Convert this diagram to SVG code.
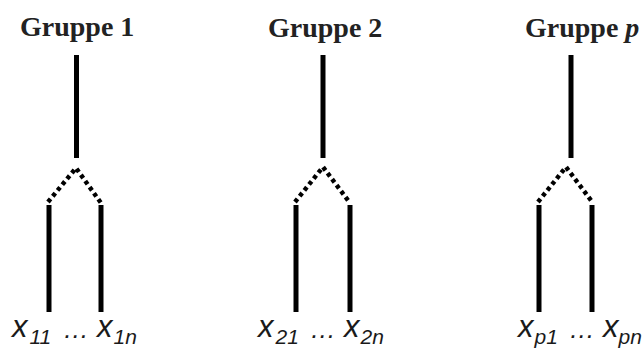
<svg xmlns="http://www.w3.org/2000/svg" width="644" height="349" viewBox="0 0 644 349">
<style>
.title{font-family:"Liberation Serif",serif;font-weight:bold;font-size:28px;fill:#222;}
.lbl{font-family:"Liberation Sans",Arial,sans-serif;font-style:italic;font-size:31px;fill:#1a1a1a;}
.sub{font-size:21px;}
.dots{font-size:26px;}
.solid{stroke:#000;stroke-width:5;fill:none;}
.dot{stroke:#000;stroke-width:4.5;fill:none;stroke-dasharray:4 3.5;}
</style>
<rect width="644" height="349" fill="#fff"/>
<g id="group1">
<text class="title" x="20" y="36">Gruppe 1</text>
<text class="lbl" x="12" y="337">x<tspan class="sub" dx="2" dy="7">11</tspan></text>
<text class="lbl dots" x="63" y="338">…</text>
<text class="lbl" x="97" y="337">x<tspan class="sub" dx="1" dy="7">1n</tspan></text>
</g>
<g id="group2">
<text class="title" x="268" y="37">Gruppe 2</text>
<text class="lbl" x="258" y="337">x<tspan class="sub" dx="2" dy="7">21</tspan></text>
<text class="lbl dots" x="310" y="338">…</text>
<text class="lbl" x="344" y="337">x<tspan class="sub" dx="1" dy="7">2n</tspan></text>
</g>
<g id="groupp">
<text class="title" x="525" y="37">Gruppe <tspan font-style="italic">p</tspan></text>
<text class="lbl" x="518" y="337">x<tspan class="sub" dx="1" dy="7">p1</tspan></text>
<text class="lbl dots" x="569" y="338">…</text>
<text class="lbl" x="603" y="337">x<tspan class="sub" dx="0" dy="7">pn</tspan></text>
</g>
<g id="connectors">
<line class="solid" x1="76.5" y1="55" x2="76.5" y2="158"/>
<path class="dot" d="M48 202 L76 168 L101 203"/>
<line class="solid" x1="49" y1="205" x2="49" y2="312"/>
<line class="solid" x1="101" y1="205" x2="101" y2="312"/>
<line class="solid" x1="323" y1="55" x2="323" y2="158"/>
<path class="dot" d="M295 202 L323 167 L350 203"/>
<line class="solid" x1="296" y1="205" x2="296" y2="312"/>
<line class="solid" x1="350" y1="205" x2="350" y2="312"/>
<line class="solid" x1="571" y1="55" x2="571" y2="158"/>
<path class="dot" d="M538 202 L566 167 L593 203"/>
<line class="solid" x1="539" y1="205" x2="539" y2="312"/>
<line class="solid" x1="592" y1="205" x2="592" y2="312"/>
</g>
</svg>
